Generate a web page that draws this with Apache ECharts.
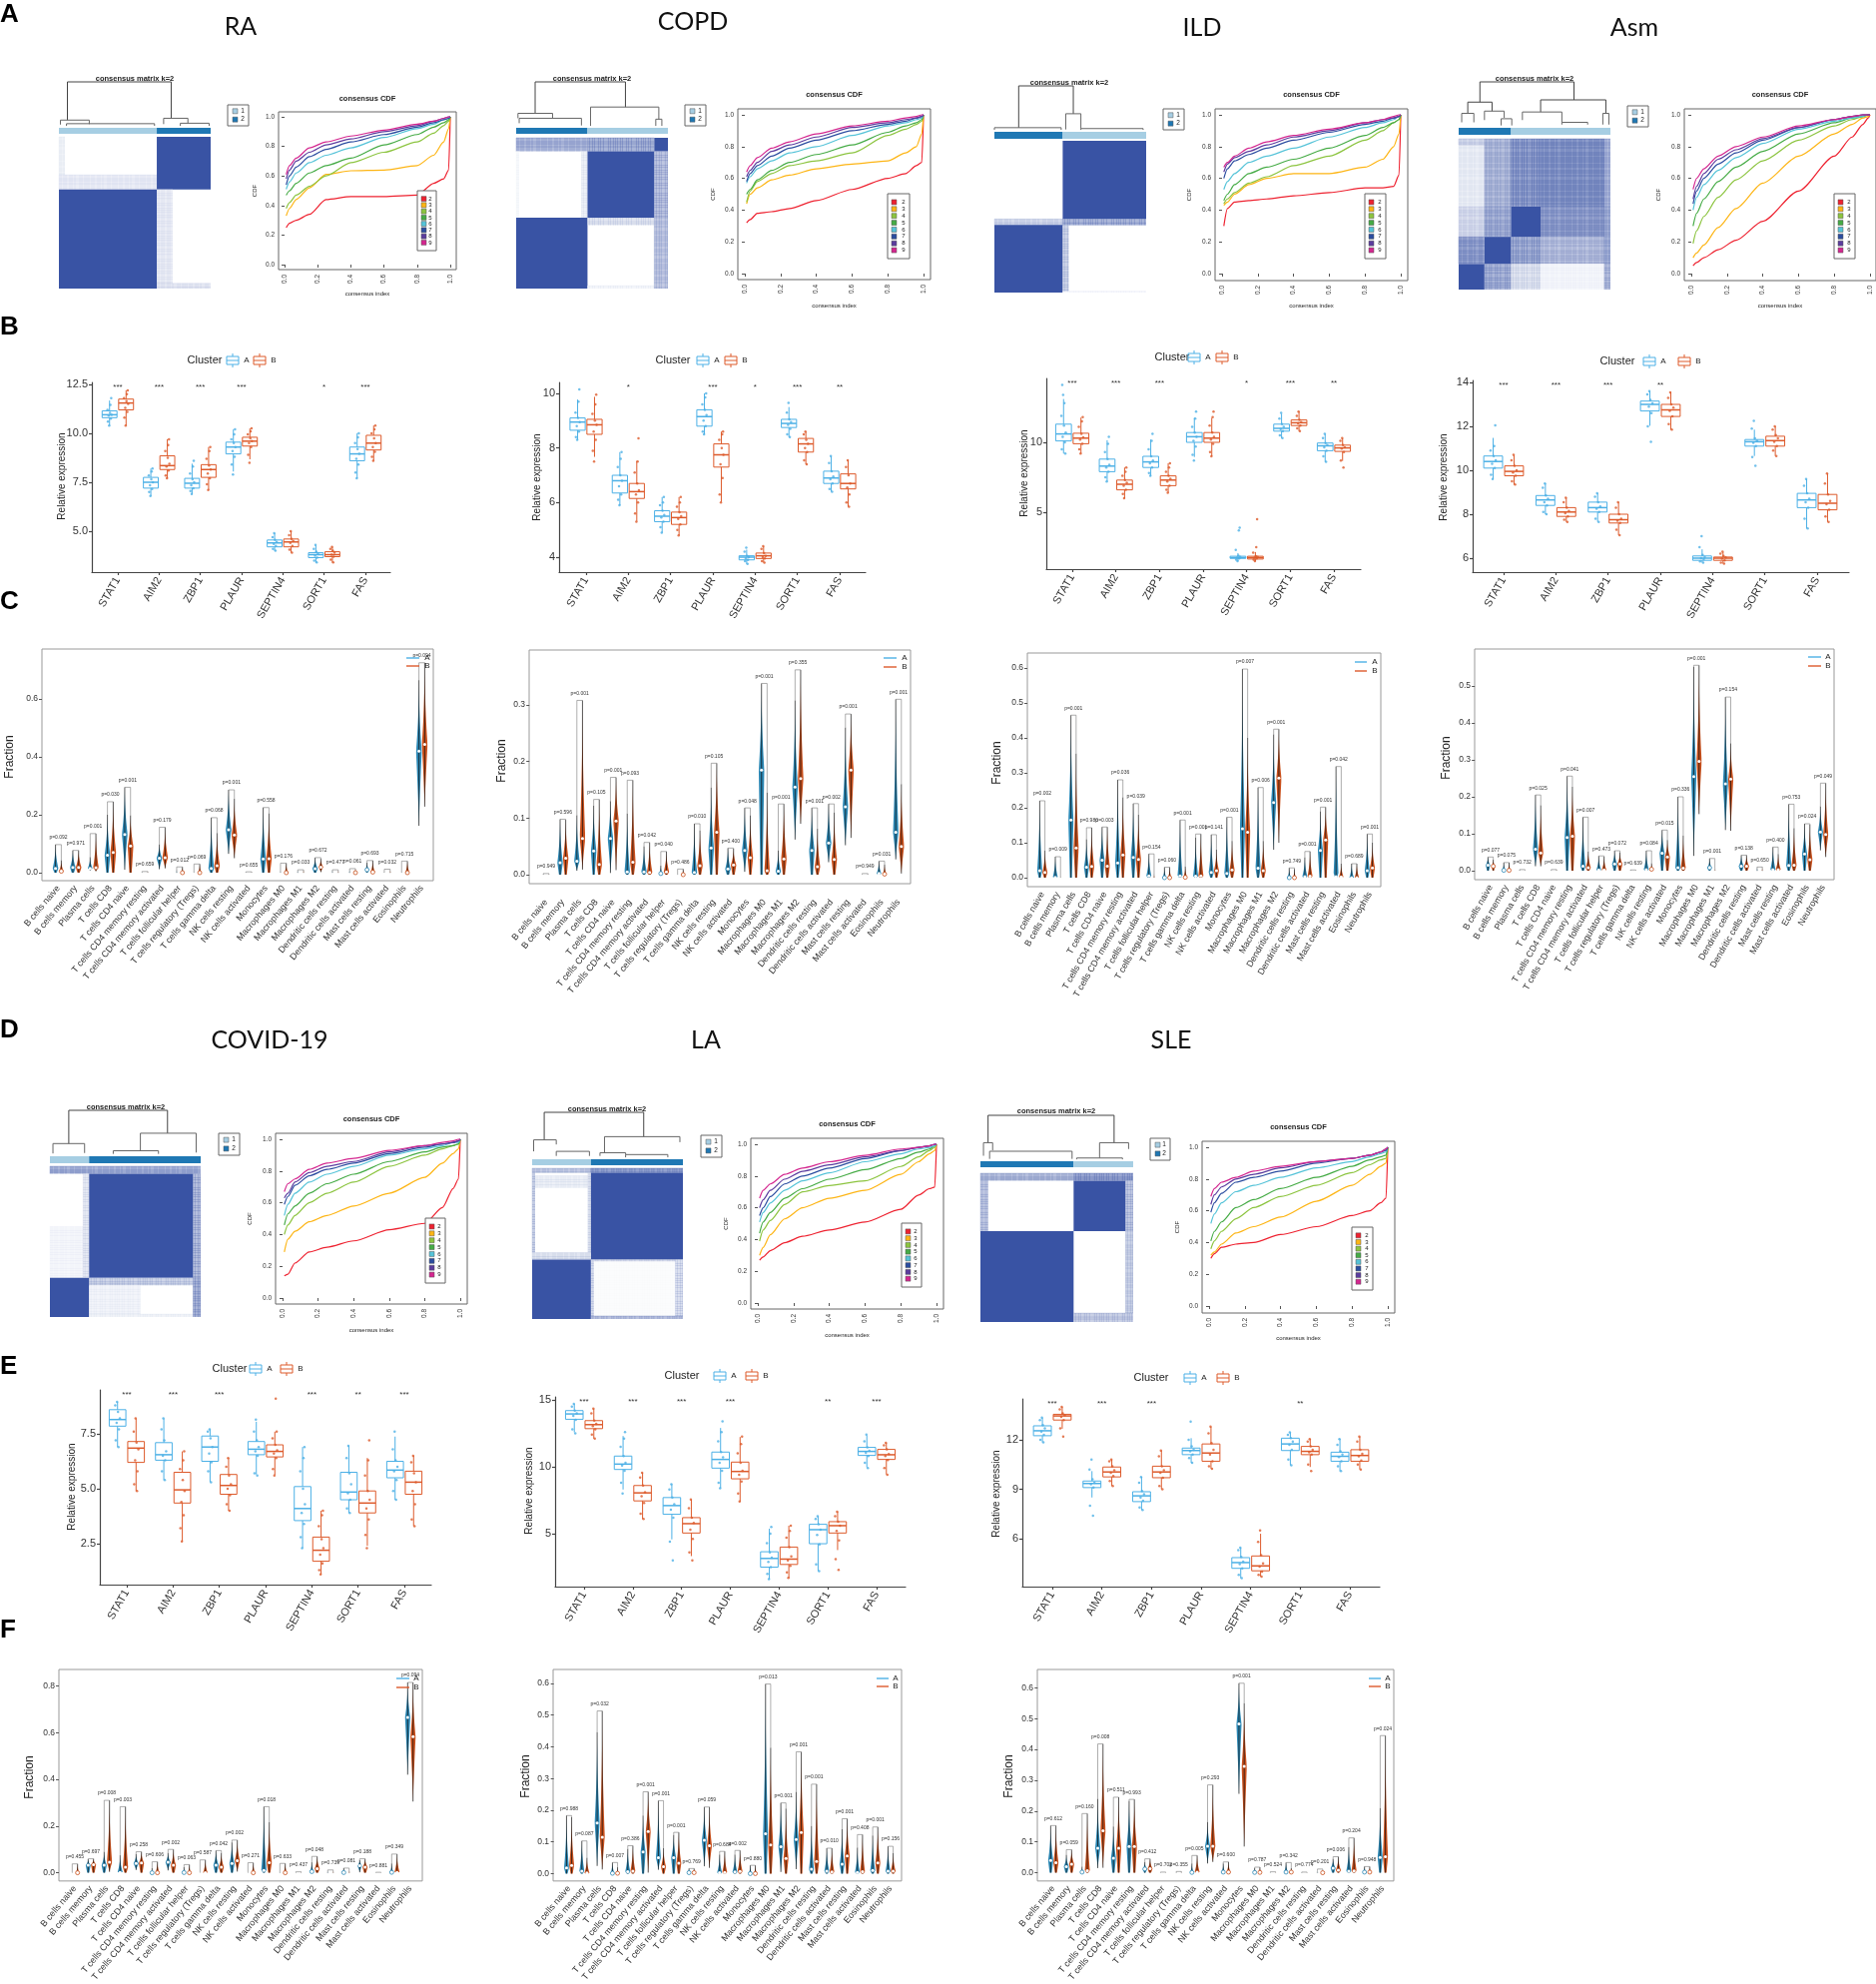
<!DOCTYPE html>
<html>
<head>
<meta charset="utf-8">
<style>
html,body{margin:0;padding:0;background:#fff}
#chart{width:1879px;height:1987px}
</style>
<script src="https://cdn.jsdelivr.net/npm/echarts@6/dist/echarts.min.js"></script>
</head>
<body>
<div id="chart"></div>
<script>
// ---------- labels ----------
const genes = ['STAT1','AIM2','ZBP1','PLAUR','SEPTIN4','SORT1','FAS']
const cells = ['B cells naive','B cells memory','Plasma cells','T cells CD8','T cells CD4 naive','T cells CD4 memory resting','T cells CD4 memory activated','T cells follicular helper','T cells regulatory (Tregs)','T cells gamma delta','NK cells resting','NK cells activated','Monocytes','Macrophages M0','Macrophages M1','Macrophages M2','Dendritic cells resting','Dendritic cells activated','Mast cells resting','Mast cells activated','Eosinophils','Neutrophils']
const cdfK = ['2','3','4','5','6','7','8','9']
const cdfColors = ['#ee2230','#fdb515','#8cc43f','#45ab45','#55c3d8','#2b4da0','#5b3c9e','#d4268f']
const boxColors = ['#4cb0e6','#dd5a2b']
const vioColors = ['#2c88b5','#c9501c']
const barColors = ['#a6cee3','#1f78b4']

// ---------- consensus CDF (k = 2..9), read at these consensus index values ----------
const cdfX = [0.01,0.03,0.07,0.15,0.25,0.4,0.6,0.8,0.9,0.96,0.99,1]
const cdfRA = [
  [.25,.28,.30,.34,.44,.46,.46,.47,.55,.58,.64,1],
  [.33,.38,.44,.52,.61,.635,.64,.67,.74,.83,.92,1],
  [.38,.42,.47,.53,.60,.69,.76,.83,.89,.94,.97,1],
  [.47,.50,.55,.62,.67,.72,.81,.88,.93,.96,.98,1],
  [.51,.56,.62,.69,.74,.79,.86,.92,.95,.98,.99,1],
  [.54,.60,.66,.73,.78,.83,.88,.93,.96,.98,.99,1],
  [.58,.64,.70,.76,.81,.85,.90,.94,.97,.99,1,1],
  [.61,.67,.72,.79,.83,.87,.91,.95,.97,.99,1,1]]
const cdfCOPD = [
  [.32,.34,.38,.39,.41,.46,.53,.60,.63,.68,.70,1],
  [.44,.50,.54,.59,.62,.66,.69,.71,.76,.80,.88,1],
  [.45,.52,.58,.63,.68,.71,.76,.87,.91,.94,.96,1],
  [.50,.53,.59,.65,.70,.75,.81,.89,.93,.95,.97,1],
  [.57,.61,.66,.71,.76,.80,.87,.93,.95,.97,.98,1],
  [.58,.63,.68,.74,.79,.84,.90,.94,.96,.98,.99,1],
  [.61,.65,.70,.77,.81,.86,.92,.95,.97,.98,.99,1],
  [.64,.68,.73,.79,.83,.88,.93,.96,.98,.99,1,1]]
const cdfILD = [
  [.30,.41,.45,.46,.47,.49,.51,.54,.54,.55,.62,1],
  [.43,.45,.50,.56,.60,.63,.63,.67,.72,.80,.88,1],
  [.44,.47,.51,.57,.61,.68,.74,.84,.90,.95,.97,1],
  [.46,.50,.56,.63,.67,.72,.79,.87,.92,.95,.97,1],
  [.53,.58,.63,.70,.74,.79,.86,.92,.95,.97,.99,1],
  [.60,.66,.71,.75,.79,.84,.89,.94,.96,.98,.99,1],
  [.64,.69,.73,.77,.81,.86,.90,.95,.97,.98,.99,1],
  [.67,.70,.74,.79,.83,.87,.91,.95,.97,.99,1,1]]
const cdfAsm = [
  [.05,.07,.10,.15,.21,.33,.52,.74,.86,.94,.98,1],
  [.10,.13,.18,.29,.41,.57,.74,.88,.94,.98,.99,1],
  [.19,.27,.36,.48,.59,.71,.84,.93,.97,.99,1,1],
  [.30,.38,.47,.58,.67,.77,.88,.95,.98,.99,1,1],
  [.40,.48,.56,.65,.73,.82,.91,.96,.98,.99,1,1],
  [.44,.52,.60,.69,.76,.84,.92,.97,.99,1,1,1],
  [.47,.55,.63,.72,.78,.85,.92,.97,.99,1,1,1],
  [.53,.60,.66,.74,.80,.86,.93,.97,.99,1,1,1]]
const cdfCOVID = [
  [.14,.15,.22,.29,.32,.36,.43,.47,.57,.69,.75,1],
  [.29,.37,.42,.48,.52,.58,.66,.76,.85,.91,.94,1],
  [.40,.46,.52,.60,.66,.73,.83,.90,.94,.96,.97,1],
  [.46,.53,.58,.66,.72,.78,.86,.92,.95,.96,.97,1],
  [.52,.59,.66,.73,.78,.83,.90,.94,.96,.98,.98,1],
  [.59,.64,.71,.77,.81,.85,.91,.95,.97,.98,.99,1],
  [.63,.66,.73,.79,.83,.86,.92,.96,.97,.98,.99,1],
  [.67,.72,.75,.81,.85,.88,.93,.96,.98,.99,1,1]]
const cdfLA = [
  [.27,.29,.33,.38,.42,.46,.51,.59,.68,.72,.73,1],
  [.30,.35,.43,.53,.60,.66,.71,.81,.89,.94,.96,1],
  [.39,.46,.52,.62,.70,.74,.77,.86,.92,.96,.98,1],
  [.44,.51,.57,.66,.72,.78,.84,.91,.95,.97,.99,1],
  [.51,.57,.63,.71,.77,.82,.89,.94,.97,.98,.99,1],
  [.55,.60,.67,.75,.80,.85,.91,.96,.98,.99,1,1],
  [.60,.65,.71,.78,.83,.87,.92,.96,.98,.99,1,1],
  [.66,.71,.75,.81,.85,.89,.93,.97,.98,.99,1,1]]
const cdfSLE = [
  [.30,.33,.37,.39,.40,.45,.50,.57,.60,.65,.68,1],
  [.32,.34,.39,.46,.50,.56,.66,.76,.83,.88,.90,1],
  [.36,.41,.47,.55,.62,.69,.76,.84,.89,.92,.93,1],
  [.41,.47,.53,.62,.67,.74,.81,.88,.92,.94,.95,1],
  [.52,.58,.65,.72,.76,.81,.87,.91,.94,.96,.97,1],
  [.59,.65,.71,.78,.81,.85,.90,.93,.95,.97,.98,1],
  [.64,.70,.75,.80,.83,.87,.91,.93,.95,.97,.99,1],
  [.69,.74,.78,.81,.85,.88,.91,.93,.95,.97,.99,1]]

// ---------- consensus matrices: [x0,x1,y0,y1,shade], from the top left ----------
const heatRA = [[0,.645,0,.347,0],[0,.04,0,.25,.12],[0,.645,.25,.347,.16],[.645,1,0,.347,1],[0,.645,.347,1,1],[.645,.75,.347,1,.16],[.645,1,.965,1,.22]]
const heatCOPD = [[0,.47,0,.09,.65],[.47,.91,0,.09,.72],[.91,1,0,.09,1],[.43,.47,.09,.53,.14],[0,.02,.09,.53,.06],[.47,.91,.09,.53,1],[.91,1,.09,.53,.55],[0,.47,.53,1,1],[.47,.91,.53,.58,.25],[.47,.91,.98,1,.1],[.91,1,.53,1,.5]]
const heatILD = [[0,.45,.515,.555,.35],[.45,1,0,.515,1],[.45,1,.515,.555,.7],[0,.45,.555,1,1],[.45,.49,.555,1,.4],[.45,1,.99,1,.08]]
const heatAsm = [[0,.17,0,.45,.15],[0,.17,0,.04,.35],[.17,.345,0,.45,.6],[.345,.54,0,.45,.9],[.54,.96,0,.45,.95],[.96,1,0,.45,.65],[0,.17,.45,.65,.3],[.17,.345,.45,.65,.7],[.345,.54,.45,.65,1],[.54,.96,.45,.65,.85],[.96,1,.45,.65,.7],[0,.17,.65,.83,.85],[.17,.345,.65,.83,1],[.345,.54,.65,.83,.75],[.54,.96,.65,.83,.55],[.96,1,.65,.83,.7],[0,.17,.83,1,1],[.17,.345,.83,1,.7],[.345,.54,.83,1,.25],[.54,.96,.83,1,.08],[.96,1,.83,1,.6]]
const heatCOVID = [[0,1,0,.05,.7],[0,.22,.4,.74,.08],[.22,.26,.05,.74,.2],[.26,.95,.05,.74,1],[.95,1,.05,.74,.6],[0,.26,.74,1,1],[.26,.95,.74,.79,.4],[.26,.6,.79,.98,.1],[.26,.95,.98,1,.12],[.95,1,.74,1,.7]]
const heatLA = [[0,.39,0,.03,.5],[.39,1,0,.03,.9],[0,.02,.03,.56,.4],[.02,.37,.05,.13,.15],[.37,.39,.03,.56,.25],[.39,1,.03,.606,1],[0,.39,.56,.606,.25],[0,.39,.606,1,1],[.39,.41,.606,1,.3],[.39,1,.606,.62,.35],[.41,.95,.62,.98,.03],[.95,1,.606,1,.3],[.39,1,.98,1,.6]]
const heatSLE = [[0,.61,0,.05,.6],[.61,1,0,.05,.85],[0,.05,.05,.39,.5],[.61,.95,.05,.39,1],[.95,1,.05,.39,.5],[0,.61,.39,1,1],[.95,1,.39,1,.4],[.61,1,.94,1,.45]]
const hatchSteps = [2,3,2,4,2,3,5,2,3,2]

// ---------- annotation bars [x0,x1,cluster] ----------
const barRA = [[0,.645,0],[.645,1,1]]
const barCOPD = [[0,.47,1],[.47,1,0]]
const barILD = [[0,.45,1],[.45,1,0]]
const barAsm = [[0,.345,1],[.345,1,0]]
const barCOVID = [[0,.26,0],[.26,1,1]]
const barLA = [[0,.39,0],[.39,1,1]]
const barSLE = [[0,.61,1],[.61,1,0]]

// ---------- dendrogram merges [xLeft,xRight,top,bottomLeft,bottomRight] ----------
const dendRA = [[.056,.74,1,.15,.19],[.01,.2,.15,.05,.06],[.05,.63,.07,.02,.02],[.69,.85,.19,.06,.08],[.8,.99,.08,.02,.02]]
const dendCOPD = [[.125,.72,1,.3,.44],[.012,.24,.3,.19,.19],[.02,.43,.19,.08,.03],[.49,.94,.44,.02,.17],[.92,.96,.17,.02,.02]]
const dendILD = [[.16,.52,1,.07,.38],[0,.44,.07,.02,.02],[.47,.57,.38,.03,.05],[.57,.98,.05,.02,.02]]
const dendAsm = [[.14,.76,1,.55,.6],[.06,.22,.55,.3,.35],[.02,.1,.3,.1,.1],[.17,.3,.35,.15,.2],[.28,.35,.18,.03,.03],[.54,.97,.6,.33,.3],[.42,.68,.33,.15,.1],[.68,.85,.1,.05,.05],[.95,.99,.3,.05,.05]]
const dendCOVID = [[.125,.78,1,.26,.49],[.02,.23,.26,.04,.05],[.6,.97,.49,.1,.06],[.42,.72,.1,.03,.03]]
const dendLA = [[.08,.74,1,.4,.47],[.01,.16,.4,.15,.3],[.16,.38,.15,.05,.05],[.48,.98,.47,.12,.35],[.45,.62,.12,.05,.08],[.62,.9,.08,.02,.02]]
const dendSLE = [[.05,.875,1,.39,.39],[.02,.08,.39,.1,.22],[.06,.6,.2,.03,.03],[.78,.97,.39,.05,.25],[.63,.93,.05,.02,.02]]

// ---------- gene expression: per gene, A then B: [low,q1,median,q3,high] ----------
const boxRA = [[10.4,10.8,10.95,11.15,11.8],[10.4,11.2,11.55,11.75,12.2],[6.8,7.2,7.5,7.75,8.2],[7.7,8.15,8.35,8.85,9.7],[6.9,7.2,7.45,7.7,8.6],[7.1,7.75,8.15,8.4,9.3],[7.9,8.95,9.3,9.55,10.2],[8.5,9.35,9.6,9.8,10.25],[4,4.2,4.4,4.55,4.9],[3.9,4.2,4.45,4.6,5],[3.4,3.65,3.8,3.9,4.3],[3.4,3.7,3.8,3.95,4.2],[7.7,8.6,8.95,9.3,10],[8.6,9.15,9.5,9.9,10.4]]
const boxCOPD = [[8.3,8.65,8.95,9.1,10.15],[7.5,8.5,8.85,9.05,9.95],[5.9,6.35,6.8,7,7.85],[5.3,6.15,6.4,6.7,8.35],[4.9,5.3,5.5,5.7,6.2],[4.8,5.2,5.45,5.65,6.2],[8.5,8.8,9.15,9.4,10],[6,7.3,7.75,8.15,8.6],[3.75,3.9,4,4.05,4.35],[3.8,3.95,4.05,4.15,4.4],[8.4,8.75,8.9,9.05,9.65],[7.4,7.85,8.15,8.35,8.6],[6.4,6.7,6.9,7.15,7.7],[5.85,6.5,6.7,7.05,7.55]]
const boxILD = [[9.2,10.1,10.6,11.3,14.1],[9.2,9.9,10.3,10.65,11.8],[7.2,7.9,8.3,8.8,10.4],[6,6.6,7,7.3,8.2],[7.6,8.2,8.6,9,10.6],[6.4,6.9,7.3,7.6,8.5],[8.7,10,10.4,10.7,12.2],[9,10,10.3,10.7,12.2],[1.5,1.7,1.75,1.85,3.9],[1.5,1.65,1.75,1.85,4.5],[10.3,10.8,11,11.3,12.1],[10.8,11.2,11.4,11.6,12.2],[8.6,9.4,9.75,9.95,10.6],[8.2,9.35,9.6,9.8,10.3]]
const boxAsm = [[9.6,10.1,10.4,10.65,12.05],[9.35,9.75,9.95,10.2,10.7],[8,8.4,8.65,8.85,9.4],[7.65,7.9,8.1,8.3,8.75],[7.65,8.1,8.3,8.55,8.95],[7.05,7.6,7.75,8,8.55],[11.3,12.7,13,13.15,13.6],[11.85,12.45,12.75,13,13.55],[5.8,5.9,6,6.1,7],[5.75,5.9,6,6.05,6.3],[10.2,11.1,11.3,11.4,12.25],[10.65,11.1,11.35,11.55,12],[7.35,8.3,8.65,8.95,9.6],[7.65,8.2,8.5,8.9,9.85]]
const boxCOVID = [[6.9,7.85,8.15,8.6,8.95],[4.9,6.2,6.85,7.15,8.2],[5.4,6.3,6.55,7.1,8.2],[2.6,4.35,4.95,5.75,6.7],[5.3,6.25,6.9,7.4,7.7],[4,4.75,5.15,5.65,6.4],[5.6,6.55,6.8,7.15,8.15],[5.6,6.45,6.7,7,7.6],[2.3,3.55,4.1,5.1,6.9],[1.1,1.7,2.2,2.8,4],[3.9,4.5,4.85,5.75,6.95],[2.3,3.9,4.35,4.9,7.2],[4.5,5.5,5.85,6.25,7.6],[3.3,4.75,5.3,5.8,6.5]]
const boxLA = [[12.5,13.55,13.95,14.2,14.7],[12.1,12.85,13.15,13.45,14.35],[8,9.8,10.2,10.8,12.6],[6.1,7.45,8.05,8.6,9.55],[3,6.45,7.1,7.7,8.7],[3,5.05,5.75,6.2,7.55],[8.4,9.9,10.55,11.1,13.4],[7.4,9.1,9.65,10.35,12.25],[1.6,2.5,3.15,3.65,5.5],[1.7,2.7,3.1,4,5.6],[2.2,4.25,5.3,5.7,6.3],[2.3,5.05,5.6,5.9,6.65],[9.9,10.85,11.15,11.45,12.4],[9.4,10.55,10.9,11.3,11.8]]
const boxSLE = [[11.85,12.25,12.55,12.85,13.35],[12.2,13.2,13.45,13.55,14],[7.4,9.1,9.35,9.5,10.8],[9.2,9.75,10.05,10.35,10.8],[7.75,8.25,8.6,8.85,9.75],[9,9.7,10.05,10.4,11.35],[10.6,11.1,11.35,11.5,13.1],[10.25,10.7,11.2,11.75,12.8],[3.6,4.2,4.55,4.85,5.45],[3.7,4.05,4.35,4.95,6.5],[10.45,11.35,11.75,12.1,12.45],[10.1,11.1,11.3,11.6,12.05],[10.1,10.7,11,11.25,12.05],[10.2,10.7,11.05,11.4,12.2]]

// ---------- individual samples, same order as the boxes ----------
const dotsRA = [[10.6,10.75,10.9,10.95,11.05,11.2,11.45],[10.8,11.1,11.3,11.5,11.65,11.8,12],[7,7.15,7.35,7.5,7.65,7.85,8.05],[7.85,8.1,8.3,8.45,8.75,9.1,9.4],[7.05,7.2,7.35,7.5,7.65,7.95,8.3],[7.4,7.7,7.95,8.15,8.35,8.7,9.1],[8.4,8.8,9.1,9.3,9.5,9.7,9.95],[8.9,9.3,9.5,9.6,9.75,9.95,10.1],[4.1,4.25,4.35,4.45,4.55,4.7],[4.05,4.25,4.4,4.5,4.6,4.8],[3.5,3.65,3.75,3.85,3.95,4.1],[3.55,3.7,3.8,3.9,4,4.1],[8,8.4,8.7,8.95,9.2,9.5,9.8],[8.8,9.05,9.3,9.5,9.75,10,10.2]]
const dotsCOPD = [[8.4,8.6,8.8,8.95,9.1,9.3,9.7],[7.9,8.3,8.6,8.85,9,9.25,9.6],[6.1,6.3,6.6,6.8,7,7.3,7.6],[5.6,6,6.3,6.45,6.7,7.1,7.5],[5.1,5.3,5.45,5.55,5.7,5.9,6],[5,5.2,5.4,5.5,5.65,5.85,6],[8.6,8.8,9,9.2,9.4,9.6,9.85],[6.3,6.9,7.4,7.75,8,8.3,8.5],[3.85,3.9,3.95,4,4.05,4.2],[3.85,3.95,4,4.05,4.15,4.3],[8.5,8.7,8.85,8.95,9.05,9.3],[7.55,7.85,8,8.15,8.3,8.5],[6.5,6.7,6.85,6.95,7.15,7.45],[6,6.3,6.55,6.7,7,7.3]]
const dotsILD = [[9.5,10,10.4,10.7,11.2,11.9,12.8,13.4],[9.5,9.9,10.2,10.35,10.6,11.1,11.5],[7.5,7.9,8.2,8.4,8.8,9.3,9.9],[6.3,6.6,6.9,7.1,7.3,7.6,7.9],[7.8,8.2,8.5,8.7,9,9.5,10.1],[6.6,6.9,7.2,7.4,7.6,7.9,8.2],[9.1,9.7,10.1,10.4,10.7,11.1,11.7],[9.3,9.9,10.2,10.4,10.7,11.2,11.8],[1.6,1.7,1.75,1.8,1.9,2.3,3.7],[1.6,1.7,1.75,1.8,1.85,2.1,2.5],[10.5,10.8,10.95,11.1,11.3,11.7],[11,11.2,11.35,11.45,11.6,11.9],[9,9.4,9.65,9.8,9.95,10.3],[8.7,9.3,9.55,9.65,9.8,10.1]]
const dotsAsm = [[9.8,10.1,10.3,10.45,10.65,10.9,11.1],[9.5,9.75,9.9,10,10.2,10.45],[8.1,8.4,8.55,8.7,8.85,9.2],[7.75,7.9,8.05,8.15,8.3,8.55],[7.8,8.1,8.25,8.35,8.55,8.8],[7.3,7.6,7.7,7.8,8,8.3],[12,12.6,12.9,13.05,13.2,13.45],[12.1,12.45,12.7,12.85,13,13.3],[5.85,5.95,6,6.05,6.15,6.5],[5.8,5.9,5.98,6.03,6.1,6.2],[10.6,11.1,11.25,11.35,11.45,11.9],[10.9,11.1,11.3,11.45,11.6,11.85],[7.8,8.3,8.55,8.7,8.95,9.3],[7.9,8.2,8.45,8.6,8.9,9.4]]
const dotsCOVID = [[7.2,7.7,8,8.2,8.5,8.8],[5.2,5.8,6.3,6.8,7.1,7.6],[5.8,6.3,6.5,6.7,7.2,7.7],[3.2,3.8,4.4,4.9,5.4,5.9,6.3],[5.8,6.2,6.6,6.9,7.3,7.6],[4.3,4.7,5,5.2,5.6,6],[5.7,6.5,6.7,6.9,7.2,7.6],[5.9,6.4,6.6,6.75,7,7.3,9.1],[2.8,3.4,3.9,4.3,5,5.8,6.4],[1.3,1.6,2,2.3,2.7,3.3,3.8],[4.1,4.5,4.8,5.2,5.7,6.4],[2.9,3.6,4.1,4.5,4.9,5.6,6.3],[4.9,5.4,5.8,6,6.3,6.8],[3.6,4.3,4.9,5.3,5.7,6.2]]
const dotsLA = [[12.8,13.5,13.8,14,14.2,14.5],[12.4,12.8,13.05,13.2,13.45,14],[8.8,9.7,10.1,10.3,10.8,11.5,12.1],[6.5,7.3,7.8,8.1,8.6,9.2],[4.4,6.2,6.8,7.2,7.7,8.3],[3.6,4.6,5.3,5.8,6.2,6.9],[8.8,9.7,10.3,10.7,11.1,11.9,12.6],[8,8.9,9.4,9.7,10.3,11,11.7],[2,2.5,2.9,3.2,3.6,4.3,5],[2.1,2.6,3,3.3,4,4.7,5.2],[2.7,4.2,4.9,5.3,5.7,6.1],[3.1,4.5,5.2,5.6,5.9,6.3],[10.3,10.8,11.05,11.2,11.45,11.9],[9.9,10.5,10.8,10.95,11.3,11.6]]
const dotsSLE = [[12,12.3,12.5,12.7,12.9,13.2],[12.7,13.2,13.4,13.5,13.6,13.85],[8,9.1,9.3,9.4,9.6,10.2],[9.5,9.8,10,10.15,10.4,10.7],[7.9,8.3,8.5,8.7,8.9,9.4],[9.2,9.7,10,10.15,10.4,11],[10.9,11.1,11.3,11.4,11.6,12],[10.4,10.7,11.1,11.4,11.8,12.4],[3.8,4.2,4.45,4.6,4.9,5.3],[3.8,4,4.3,4.5,5,5.8],[10.8,11.4,11.7,11.9,12.1,12.3],[10.5,11.1,11.25,11.4,11.6,11.9],[10.4,10.7,10.95,11.1,11.3,11.7],[10.5,10.75,11,11.15,11.4,11.9]]
const jitter = [-.04,.03,-.02,.05,.01,-.05,.02,-.01,.04,-.03]

const starsRA = ['***','***','***','***','','*','***']
const starsCOPD = ['','*','','***','*','***','**']
const starsILD = ['***','***','***','','*','***','**']
const starsAsm = ['***','***','***','**','','','']
const starsCOVID = ['***','***','***','','***','**','***']
const starsLA = ['***','***','***','***','','**','***']
const starsSLE = ['***','***','***','','','**','']

// ---------- immune fractions: per cell type, [high,median,low] ----------
const vioRA_A = [[.097,.015],[.077,.018],[.054,.015,.008],[.2,.06],[.295,.132,.01],[.004,0],[.098,.05,.012],[.01,0],[.004,0],[.19,.015],[.286,.148,.065],[.003,0],[.225,.047],[.005,0],[.01,0],[.052,.014],[.008,0],[.012,0],[.035,.01],[.003,0],[.004,0],[.665,.42,.162]]
const vioRA_B = [[.043,.005],[.077,.018],[.135,.017,.005],[.245,.07],[.198,.092],[.004,0],[.157,.052,.015],[.02,0],[.03,0],[.137,.024],[.255,.13,.05],[.003,0],[.205,.048],[.033,0],[.01,0],[.048,.019,.002],[.01,0],[.014,0],[.042,.002],[.012,0],[.04,0],[.725,.443,.228]]
const pRA = ['0.092','0.971','0.001','0.030','0.001','0.659','0.179','0.012','0.069','0.068','0.001','0.655','0.558','0.176','0.033','0.672','0.477','0.061','0.693','0.032','0.715','0.094']
const vioCOPD_A = [[.002,0],[.098,.021],[.105,.024,.007],[.122,.042],[.13,.064,.003],[.108,.005],[.05,.005],[.016,.002],[.002,0],[.09,.004],[.154,.047],[.047,.01],[.118,.043,.005],[.338,.185],[.043,.006],[.308,.155,.062],[.118,.043],[.125,.056,.022],[.26,.12,.052],[.002,0],[.024,.002],[.31,.075,.027]]
const vioCOPD_B = [[.002,0],[.097,.029],[.308,.064,.009],[.133,.018],[.172,.095,.008],[.167,.022],[.057,.004],[.041,.005],[.01,0],[.078,.016],[.197,.075],[.046,.017],[.105,.03],[.145,.007],[.125,.028],[.362,.17,.09],[.081,.014],[.11,.027],[.284,.185,.065],[.002,0],[.018,.001],[.16,.05,.002]]
const pCOPD = ['0.949','0.596','0.001','0.105','0.001','0.093','0.042','0.040','0.486','0.010','0.105','0.400','0.048','0.001','0.001','0.355','0.001','0.002','0.001','0.949','0.031','0.001']
const vioILD_A = [[.22,.02],[.06,.001],[.465,.165],[.11,.03],[.145,.05],[.28,.042],[.212,.058],[.068,.005],[.03,0],[.165,.005],[.115,.004],[.123,.015],[.173,.012],[.597,.14],[.258,.027],[.41,.215,.08],[.028,0],[.058,.003],[.19,.078],[.318,.003],[.04,0],[.125,.02]]
const vioILD_B = [[.078,.015],[.003,0],[.355,.085],[.143,.032],[.145,.033],[.23,.065],[.18,.052],[.01,.002],[.03,0],[.032,.001],[.125,.005],[.08,.02],[.105,.022],[.4,.13],[.105,.02],[.425,.285,.1],[.025,0],[.075,.004],[.202,.108],[.04,.002],[.04,0],[.1,.028]]
const pILD = ['0.002','0.009','0.001','0.980','0.003','0.036','0.039','0.154','0.060','0.001','0.001','0.141','0.001','0.007','0.006','0.001','0.749','0.001','0.001','0.042','0.689','0.001']
const vioAsm_A = [[.037,.015],[.022,.001],[.003,0],[.205,.058,.012],[.003,0],[.256,.09],[.145,.012],[.04,.002],[.054,.018],[.002,0],[.054,.003],[.11,.047],[.2,.008],[.552,.255,.04],[.033,.008],[.47,.235,.11],[.042,.012],[.01,0],[.064,.003],[.18,.014],[.127,.045],[.174,.105,.055]]
const vioAsm_B = [[.03,.012],[.022,.001],[.003,0],[.177,.048,.012],[.003,0],[.227,.093],[.052,.008],[.038,.002],[.05,.018],[.002,0],[.02,.004],[.083,.037],[.095,.007],[.556,.296,.153],[.008,.002],[.345,.248,.108],[.042,.012],[.01,0],[.045,.003],[.115,.015],[.125,.03],[.237,.098,.037]]
const pAsm = ['0.077','0.075','0.732','0.025','0.639','0.041','0.007','0.473','0.072','0.639','0.084','0.015','0.336','0.001','0.001','0.154','0.138','0.650','0.400','0.753','0.024','0.049']
const vioCOVID_A = [[.003,0],[.058,.033],[.09,.032],[.075,.002],[.08,.04,.012],[.02,0],[.085,.045,.01],[.024,.001],[.002,0],[.095,.033],[.13,.04],[.003,0],[.283,.01],[.008,0],[.004,0],[.045,.005],[.012,0],[.02,.001],[.055,.03,.002],[.002,0],[.04,.002],[.815,.665,.42]]
const vioCOVID_B = [[.038,0],[.06,.035],[.31,.045,.004],[.283,.024],[.09,.042],[.047,0],[.1,.032],[.035,0],[.055,0],[.085,.024],[.14,.052,.005],[.043,0],[.217,.043],[.04,0],[.004,0],[.07,.018],[.012,0],[.015,.001],[.06,.024],[.002,0],[.08,.002],[.815,.583,.305]]
const pCOVID = ['0.455','0.697','0.008','0.003','0.258','0.606','0.002','0.063','0.587','0.042','0.002','0.271','0.018','0.633','0.437','0.048','0.739','0.081','0.188','0.881','0.349','0.094']
const vioLA_A = [[.183,.018],[.103,.008],[.446,.16,.024],[.035,.001],[.078,.006],[.183,.068],[.23,.05,.012],[.122,.05],[.016,.003],[.21,.105,.023],[.06,.003],[.06,.005],[.026,0],[.598,.126],[.223,.085,.005],[.258,.108,.014],[.15,.014],[.08,.008],[.14,.03],[.082,.004],[.12,.01],[.086,.008]]
const vioLA_B = [[.178,.026],[.05,.002],[.513,.115,.013],[.02,.001],[.088,.008],[.258,.133,.003],[.08,.022],[.13,.033],[.016,.003],[.21,.088,.018],[.07,.004],[.073,.007],[.026,0],[.397,.09],[.205,.048],[.384,.13],[.282,.038],[.08,.005],[.173,.056],[.123,.006],[.147,.034],[.065,.008]]
const pLA = ['0.988','0.087','0.032','0.007','0.386','0.001','0.001','0.001','0.769','0.059','0.684','0.002','0.880','0.013','0.001','0.001','0.001','0.010','0.001','0.408','0.001','0.156']
const vioSLE_A = [[.153,.04],[.058,.02],[.02,.002],[.24,.08,.015],[.15,.047],[.233,.085],[.035,.012],[.002,0],[.002,0],[.03,.001],[.165,.086,.03],[.03,.002],[.615,.483,.256],[.015,.001],[.003,0],[.033,.002],[.002,0],[.01,0],[.045,.015],[.083,.005],[.02,.002],[.21,.05]]
const vioSLE_B = [[.153,.033],[.075,.028],[.192,.007],[.418,.136,.016],[.245,.08],[.238,.085],[.045,.013],[.002,0],[.004,0],[.056,.002],[.285,.086,.035],[.035,.002],[.55,.345,.085],[.018,.001],[.003,0],[.015,.002],[.002,0],[.012,0],[.052,.008],[.113,.006],[.02,.002],[.445,.052]]
const pSLE = ['0.612','0.059','0.160','0.008','0.511','0.993','0.412','0.702','0.355','0.005','0.293','0.600','0.001','0.787','0.524','0.342','0.774','0.201','0.006','0.204','0.948','0.024']

// ---------- building blocks ----------
const grid = [], xAxis = [], yAxis = [], series = [], elements = []
const SANS = 'Liberation Sans'
const range = a => a.map((_, i) => i + 1)

function txt(x, y, text, o = {}) {
  elements.push({
    type: 'text', x, y, z: 100, silent: true, rotation: o.rotate || 0,
    style: { text, fill: o.color || '#222', fontSize: o.size || 8, fontFamily: o.family || SANS, fontWeight: o.weight || 'normal', textAlign: o.align || 'center', textVerticalAlign: 'middle' }
  })
}
function rect(x, y, width, height, fill, stroke, lineWidth) {
  elements.push({ type: 'rect', z: 100, silent: true, shape: { x, y, width, height }, style: { fill: fill || 'none', stroke: stroke || 'none', lineWidth: lineWidth || 1 } })
}
function seg(x1, y1, x2, y2, stroke, lineWidth) {
  elements.push({ type: 'line', z: 100, silent: true, shape: { x1, y1, x2, y2 }, style: { stroke, lineWidth: lineWidth || 1 } })
}
// axis limits so that data values vA, vB land on pixels pA, pB when the axis spans pLo..pHi
function limits(pLo, pHi, pA, pB, vA, vB) {
  const k = (vB - vA) / (pB - pA)
  return { min: vA + (pLo - pA) * k, max: vA + (pHi - pA) * k }
}
function addGrid(box, xa, ya, g = {}) {
  grid.push(Object.assign({ left: box[0], top: box[1], width: box[2] - box[0], height: box[3] - box[1], containLabel: false }, g))
  const i = grid.length - 1
  xAxis.push(Object.assign({ gridIndex: i, type: 'value', splitLine: { show: false } }, xa))
  yAxis.push(Object.assign({ gridIndex: i, type: 'value', splitLine: { show: false } }, ya))
  return i
}
const hidden = (min, max, extra) => Object.assign({ show: false, min, max }, extra)
function custom(g, data, renderItem) {
  series.push({ type: 'custom', xAxisIndex: g, yAxisIndex: g, data, renderItem, silent: true, clip: false })
}
function shade(v) {
  const mix = (a, b) => Math.round(a + (b - a) * v)
  return `rgb(${mix(255, 57)},${mix(255, 83)},${mix(255, 164)})`
}

function drawConsensus(p) {
  const [l, top, r, bottom] = p.heat
  const h = bottom - top
  const g = addGrid([l, p.barTop, r, bottom], hidden(0, 1), hidden((p.barTop - top) / h, 1, { inverse: true }))
  custom(g, [[0, 1, 0, 1, 0]].concat(p.blocks), (params, api) => {
    const a = api.coord([api.value(0), api.value(2)]), b = api.coord([api.value(1), api.value(3)])
    const v = api.value(4), w = b[0] - a[0], ht = b[1] - a[1]
    if (v <= 0 || v >= 1) return { type: 'rect', shape: { x: a[0], y: a[1], width: w, height: ht }, style: { fill: shade(v) } }
    // partial agreement shows as fine streaks across the block
    const kids = [{ type: 'rect', shape: { x: a[0], y: a[1], width: w, height: ht }, style: { fill: shade(v * .6) } }]
    const st = { stroke: `rgba(57,83,164,${v * .55})`, lineWidth: .7 }
    for (let x = a[0], i = 0; x < b[0]; x += hatchSteps[i++ % hatchSteps.length]) kids.push({ type: 'line', shape: { x1: x, y1: a[1], x2: x, y2: b[1] }, style: st })
    for (let y = a[1], i = 3; y < b[1]; y += hatchSteps[i++ % hatchSteps.length]) kids.push({ type: 'line', shape: { x1: a[0], y1: y, x2: b[0], y2: y }, style: st })
    return { type: 'group', children: kids }
  })
  custom(g, p.bar, (params, api) => {
    const a = api.coord([api.value(0), (p.barTop - top) / h]), b = api.coord([api.value(1), (p.barBottom - top) / h])
    return { type: 'rect', shape: { x: a[0], y: a[1], width: b[0] - a[0], height: b[1] - a[1] }, style: { fill: barColors[api.value(2)] } }
  })
  const d = addGrid([l, p.dendTop, r, p.barTop - 1], hidden(0, 1), hidden(0, 1))
  custom(d, p.dend, (params, api) => {
    const xl = api.value(0), xr = api.value(1), t = api.value(2), bl = api.value(3), br = api.value(4)
    const pts = [api.coord([xl, bl]), api.coord([xl, t]), api.coord([xr, t]), api.coord([xr, br])]
    return { type: 'polyline', shape: { points: pts }, style: { stroke: t > .5 ? '#444' : '#666', lineWidth: 1, fill: 'none' } }
  })
  txt(p.title[0], p.title[1], 'consensus matrix k=2', { size: 7.5, weight: 'bold' })
  const [lx, ly, rx, ry] = p.key
  rect(lx, ly, rx - lx, ry - ly, '#fff', '#666', 1)
  barColors.forEach((c, i) => {
    const cy = ly + (ry - ly) * (i === 0 ? .3 : .7)
    rect(lx + 5, cy - 2.5, 5, 5, c, '#555', .5)
    txt(rx - 6, cy, String(i + 1), { size: 6.5 })
  })
}

function drawCdf(p) {
  const [l, t, r, b] = p.box
  const xl = limits(l, r, p.x0, p.x1, 0, 1), yl = limits(b, t, p.y0, p.y1, 0, 1)
  const ticks = [0, .2, .4, .6, .8, 1]
  const g = addGrid(p.box,
    { min: xl.min, max: xl.max, axisLine: { show: false }, axisTick: { customValues: ticks, length: 3, lineStyle: { color: '#555' } }, axisLabel: { customValues: ticks, rotate: 90, fontSize: 6.5, color: '#333', margin: 5, fontFamily: SANS, formatter: v => v.toFixed(1) } },
    { min: yl.min, max: yl.max, axisLine: { show: false }, axisTick: { customValues: ticks, length: 3, lineStyle: { color: '#555' } }, axisLabel: { customValues: ticks, fontSize: 6.5, color: '#333', margin: 4, fontFamily: SANS, formatter: v => v.toFixed(1) } },
    { show: true, borderColor: '#666', borderWidth: 1 })
  p.curves.forEach((c, i) => series.push({
    type: 'line', name: cdfK[i], xAxisIndex: g, yAxisIndex: g, showSymbol: false, silent: true, smooth: .25, smoothMonotone: 'x',
    lineStyle: { color: cdfColors[i], width: 1.2 }, data: cdfX.map((x, j) => [x, c[j]])
  }))
  txt((l + r) / 2, p.titleY, 'consensus CDF', { size: 7.5, weight: 'bold' })
  txt((l + r) / 2, p.nameY, 'consensus index', { size: 6 })
  txt(p.nameX, (t + b) / 2, 'CDF', { size: 6, rotate: Math.PI / 2 })
  const [kl, kt, kr, kb] = p.key
  rect(kl, kt, kr - kl, kb - kt, '#fff', '#666', 1)
  cdfK.forEach((k, i) => {
    const cy = kt + 5 + (kb - kt - 10) * (i + .5) / 8
    rect(kl + 4, cy - 2.5, 5, 5, cdfColors[i], '#555', .5)
    txt(kr - 6, cy, k, { size: 6 })
  })
}

function drawBoxes(p) {
  const [l, t, r, b] = p.box
  const xl = limits(l, r, p.cat0, p.cat6, 1, 7), yl = limits(b, t, p.tickPx[0], p.tickPx[1], p.ticks[0], p.ticks[p.ticks.length - 1])
  const pos = range(genes), line = { lineStyle: { color: '#444', width: 1.2 } }
  const g = addGrid(p.box,
    { min: xl.min, max: xl.max, axisLine: line, axisTick: Object.assign({ customValues: pos, length: 3 }, line), axisLabel: { customValues: pos, rotate: 60, fontSize: 11, color: '#333', margin: 6, fontFamily: SANS, formatter: v => genes[Math.round(v) - 1] } },
    { min: yl.min, max: yl.max, axisLine: line, axisTick: Object.assign({ customValues: p.ticks, length: 3 }, line), axisLabel: { customValues: p.ticks, fontSize: 11, color: '#333', margin: 4, fontFamily: SANS, formatter: v => p.digits ? v.toFixed(p.digits) : String(v) } })
  const rows = p.boxes.map((s, i) => [Math.floor(i / 2) + 1 + (i % 2 ? .2 : -.2)].concat(s, i % 2))
  custom(g, rows, (params, api) => {
    const x = api.value(0), c = boxColors[api.value(6)]
    const half = api.size([1, 0])[0] * .18
    const px = api.coord([x, 0])[0], py = v => api.coord([x, v])[1]
    const v1 = api.value(2), v3 = api.value(4), iqr = v3 - v1
    // whiskers stop at 1.5 IQR, samples further out stay as lone dots
    const low = py(Math.max(api.value(1), v1 - 1.5 * iqr)), high = py(Math.min(api.value(5), v3 + 1.5 * iqr))
    const q1 = py(v1), med = py(api.value(3)), q3 = py(v3)
    const st = { stroke: c, lineWidth: 1, fill: 'none' }
    return { type: 'group', children: [
      { type: 'line', shape: { x1: px, y1: low, x2: px, y2: q1 }, style: st },
      { type: 'line', shape: { x1: px, y1: q3, x2: px, y2: high }, style: st },
      { type: 'rect', shape: { x: px - half, y: q3, width: half * 2, height: q1 - q3 }, style: st },
      { type: 'line', shape: { x1: px - half, y1: med, x2: px + half, y2: med }, style: { stroke: c, lineWidth: 1.5 } }
    ] }
  })
  ;[0, 1].forEach(c => {
    const data = []
    p.dots.forEach((vals, i) => {
      if (i % 2 !== c) return
      const xc = rows[i][0]
      vals.concat([p.boxes[i][0], p.boxes[i][4]]).forEach((v, j) => data.push([xc + jitter[j % jitter.length], v]))
    })
    series.push({ type: 'scatter', xAxisIndex: g, yAxisIndex: g, symbolSize: 2.5, silent: true, itemStyle: { color: boxColors[c] }, data })
  })
  custom(g, pos.map(v => [v, 0]), (params, api) => ({
    type: 'text', x: api.coord([api.value(0), 0])[0], y: t + 5,
    style: { text: p.stars[params.dataIndex], fill: '#333', fontSize: 8, fontFamily: SANS, textAlign: 'center', textVerticalAlign: 'middle' }
  }))
  txt(p.nameX, p.nameY, 'Relative expression', { size: 10, rotate: Math.PI / 2 })
  const [cx, kA, kB, ky] = p.legend
  txt(cx, ky, 'Cluster', { size: 11 })
  ;[kA, kB].forEach((k, i) => {
    rect(k - 6, ky - 4, 12, 8, 'none', boxColors[i], 1)
    seg(k - 6, ky, k + 6, ky, boxColors[i], 1)
    seg(k, ky - 7, k, ky - 4, boxColors[i], 1)
    seg(k, ky + 4, k, ky + 7, boxColors[i], 1)
    txt(k + 14, ky, 'AB'[i], { size: 8 })
  })
}

function drawViolins(p) {
  const [l, t, r, b] = p.box
  const xl = limits(l, r, p.cat0, p.cat21, 1, 22), yl = limits(b, t, p.y0, p.tickPx, 0, p.tickV)
  const yMax = yl.max
  const pos = range(cells)
  const g = addGrid(p.box,
    { min: xl.min, max: xl.max, axisLine: { show: false }, axisTick: { show: false }, axisLabel: { customValues: pos, rotate: p.labelRotate || 50, fontSize: 9, color: '#333', margin: p.labelGap, fontFamily: SANS, formatter: v => cells[Math.round(v) - 1] } },
    { min: yl.min, max: yl.max, axisLine: { show: false }, axisTick: { customValues: p.ticks, length: 3, lineStyle: { color: '#555' } }, axisLabel: { customValues: p.ticks, fontSize: 8.5, color: '#333', margin: 4, fontFamily: SANS, formatter: v => v.toFixed(1) } },
    { show: true, borderColor: '#999', borderWidth: 1 })
  const rows = []
  ;[p.a, p.b].forEach((list, c) => list.forEach((v, i) => rows.push([i + 1 + (c ? .167 : -.167), c, v[0], v[1] || 0, v[2] || 0])))
  custom(g, rows, (params, api) => {
    const x = api.value(0), c = api.value(1), hi = api.value(2), med = api.value(3), lo = api.value(4)
    const cx = api.coord([x, 0])[0], py = v => api.coord([x, v])[1]
    const f = Math.min(1, (hi - lo) / (.07 * yMax))
    const w = api.size([1, 0])[0] * .165 * f
    const prof = v => {
      if (v >= med) return w * Math.pow(1 - (v - med) / ((hi - med) || 1), 2)
      const s = (med - v) / ((med - lo) || 1)
      return lo > 0 ? w * Math.pow(1 - s, 1.2) : w * (1 - .6 * s)
    }
    const left = [], right = []
    for (let i = 0; i <= 24; i++) {
      const v = lo + (hi - lo) * i / 24
      left.push([cx - prof(v), py(v)])
      right.unshift([cx + prof(v), py(v)])
    }
    const kids = [
      { type: 'polygon', shape: { points: left.concat(right) }, style: { fill: vioColors[c], stroke: f < .3 ? '#aaa' : 'none', lineWidth: .5 } },
      { type: 'line', shape: { x1: cx, y1: py(lo), x2: cx, y2: py(hi) }, style: { stroke: f < .3 ? '#bbb' : '#111', lineWidth: .7 } }
    ]
    if (f >= .25) kids.push({ type: 'circle', shape: { cx, cy: py(med), r: f < .8 ? 2 : 1.5 }, style: { fill: '#fff', stroke: f < .8 ? vioColors[c] : 'none', lineWidth: .8 } })
    return { type: 'group', children: kids }
  })
  const brackets = p.a.map((v, i) => [i + 1, v[0], p.b[i][0]])
  custom(g, brackets, (params, api) => {
    const x = api.value(0), ha = api.value(1), hb = api.value(2), top = Math.max(ha, hb)
    const xa = api.coord([x - .167, 0])[0], xb = api.coord([x + .167, 0])[0], cx = api.coord([x, 0])[0]
    const y = v => api.coord([x, v])[1]
    const pts = [[xa, y(ha)], [xa, y(top)], [xb, y(top)], [xb, y(hb)]]
    return { type: 'group', children: [
      { type: 'polyline', shape: { points: pts }, style: { stroke: '#777', lineWidth: .6, fill: 'none' } },
      { type: 'text', x: cx, y: y(top) - 7, style: { text: 'p=' + p.p[params.dataIndex], fill: '#333', fontSize: 5, fontFamily: SANS, textAlign: 'center', textVerticalAlign: 'middle' } }
    ] }
  })
  txt(p.nameX, p.nameY, 'Fraction', { size: 12, rotate: Math.PI / 2 })
  const [k0, k1, kt, kA, kB] = p.legend
  seg(k0, kA, k1, kA, boxColors[0], 1.4)
  seg(k0, kB, k1, kB, boxColors[1], 1.4)
  txt(kt, kA, 'A', { size: 8 })
  txt(kt, kB, 'B', { size: 8 })
}

// ---------- panel titles and letters ----------
const bigTitles = [['RA', 241, 27], ['COPD', 694, 22], ['ILD', 1204, 28], ['Asm', 1637, 28], ['COVID-19', 270, 1042], ['LA', 707, 1042], ['SLE', 1173, 1042]]
bigTitles.forEach(a => txt(a[1], a[2], a[0], { size: 25, family: 'Lato', color: '#111' }))
;[['A', 15], ['B', 328], ['C', 603], ['D', 1032], ['E', 1369], ['F', 1633]].forEach(a => txt(0, a[1], a[0], { size: 26, weight: 'bold', align: 'left', color: '#000' }))

// ---------- A and D ----------
drawConsensus({ heat: [59, 137, 211, 289], barTop: 128, barBottom: 134, dendTop: 82, title: [135, 79], key: [228, 105, 249, 126], blocks: heatRA, bar: barRA, dend: dendRA })
drawConsensus({ heat: [517, 138, 669, 289], barTop: 128, barBottom: 134, dendTop: 82, title: [593, 79], key: [686, 105, 707, 126], blocks: heatCOPD, bar: barCOPD, dend: dendCOPD })
drawConsensus({ heat: [996, 141, 1148, 293], barTop: 132, barBottom: 139, dendTop: 86, title: [1071, 83], key: [1165, 109, 1186, 130], blocks: heatILD, bar: barILD, dend: dendILD })
drawConsensus({ heat: [1461, 139, 1613, 290], barTop: 128, barBottom: 135, dendTop: 82, title: [1537, 79], key: [1630, 106, 1651, 127], blocks: heatAsm, bar: barAsm, dend: dendAsm })
drawConsensus({ heat: [50, 1168, 201, 1319], barTop: 1158, barBottom: 1165, dendTop: 1112, title: [126, 1109], key: [219, 1135, 240, 1157], blocks: heatCOVID, bar: barCOVID, dend: dendCOVID })
drawConsensus({ heat: [533, 1170, 684, 1321], barTop: 1161, barBottom: 1167, dendTop: 1114, title: [608, 1111], key: [702, 1137, 723, 1159], blocks: heatLA, bar: barLA, dend: dendLA })
drawConsensus({ heat: [982, 1175, 1135, 1324], barTop: 1163, barBottom: 1169, dendTop: 1117, title: [1058, 1113], key: [1152, 1140, 1172, 1162], blocks: heatSLE, bar: barSLE, dend: dendSLE })

drawCdf({ box: [279, 112, 457, 270], x0: 285, x1: 451, y0: 265, y1: 117, titleY: 99, nameY: 294, nameX: 255, key: [418, 191, 437, 251], curves: cdfRA })
drawCdf({ box: [739, 109, 932, 280], x0: 746, x1: 925, y0: 274, y1: 115, titleY: 95, nameY: 306, nameX: 714, key: [889, 194, 911, 259], curves: cdfCOPD })
drawCdf({ box: [1217, 109, 1410, 281], x0: 1224, x1: 1403, y0: 274, y1: 115, titleY: 95, nameY: 306, nameX: 1191, key: [1367, 194, 1388, 259], curves: cdfILD })
drawCdf({ box: [1687, 109, 1879, 281], x0: 1694, x1: 1873, y0: 274, y1: 115, titleY: 95, nameY: 306, nameX: 1661, key: [1837, 194, 1858, 259], curves: cdfAsm })
drawCdf({ box: [276, 1135, 468, 1306], x0: 283, x1: 461, y0: 1300, y1: 1141, titleY: 1121, nameY: 1332, nameX: 250, key: [426, 1220, 446, 1285], curves: cdfCOVID })
drawCdf({ box: [752, 1140, 945, 1311], x0: 759, x1: 938, y0: 1305, y1: 1146, titleY: 1126, nameY: 1337, nameX: 727, key: [903, 1225, 923, 1289], curves: cdfLA })
drawCdf({ box: [1204, 1143, 1397, 1315], x0: 1211, x1: 1390, y0: 1308, y1: 1149, titleY: 1129, nameY: 1340, nameX: 1179, key: [1354, 1229, 1375, 1292], curves: cdfSLE })

// ---------- B and E ----------
drawBoxes({ box: [92, 383, 391, 573], cat0: 118, cat6: 366, ticks: [5, 7.5, 10, 12.5], tickPx: [532, 385], digits: 1, nameX: 62, nameY: 477, legend: [205, 233, 260, 361], boxes: boxRA, dots: dotsRA, stars: starsRA })
drawBoxes({ box: [560, 383, 867, 573], cat0: 587, cat6: 841, ticks: [4, 6, 8, 10], tickPx: [558, 394], nameX: 538, nameY: 478, legend: [674, 704, 732, 361], boxes: boxCOPD, dots: dotsCOPD, stars: starsCOPD })
drawBoxes({ box: [1048, 379, 1363, 570], cat0: 1074, cat6: 1336, ticks: [5, 10], tickPx: [513, 443], nameX: 1026, nameY: 474, legend: [1174, 1196, 1224, 358], boxes: boxILD, dots: dotsILD, stars: starsILD })
drawBoxes({ box: [1475, 381, 1852, 573], cat0: 1506, cat6: 1820, ticks: [6, 8, 10, 12, 14], tickPx: [559, 383], nameX: 1446, nameY: 478, legend: [1620, 1652, 1687, 362], boxes: boxAsm, dots: dotsAsm, stars: starsAsm })
drawBoxes({ box: [100, 1392, 432, 1587], cat0: 127, cat6: 405, ticks: [2.5, 5, 7.5], tickPx: [1546, 1436], digits: 1, nameX: 72, nameY: 1489, legend: [230, 256, 287, 1371], boxes: boxCOVID, dots: dotsCOVID, stars: starsCOVID })
drawBoxes({ box: [556, 1399, 907, 1589], cat0: 585, cat6: 878, ticks: [5, 10, 15], tickPx: [1536, 1402], nameX: 530, nameY: 1493, legend: [683, 721, 753, 1378], boxes: boxLA, dots: dotsLA, stars: starsLA })
drawBoxes({ box: [1024, 1401, 1382, 1589], cat0: 1054, cat6: 1352, ticks: [6, 9, 12], tickPx: [1541, 1442], nameX: 998, nameY: 1496, legend: [1153, 1192, 1225, 1380], boxes: boxSLE, dots: dotsSLE, stars: starsSLE })

// ---------- C and F ----------
drawViolins({ box: [42, 650, 434, 882], cat0: 58.5, cat21: 422.5, y0: 874, tickPx: 700, tickV: .6, ticks: [0, .2, .4, .6], labelGap: 6, nameX: 10, nameY: 758, legend: [407, 420, 428, 659, 667], a: vioRA_A, b: vioRA_B, p: pRA })
drawViolins({ box: [530, 651, 912, 885], cat0: 547, cat21: 900, y0: 876, tickPx: 706, tickV: .3, ticks: [0, .1, .2, .3], labelGap: 17, nameX: 503, nameY: 762, legend: [885, 898, 906, 659, 668], a: vioCOPD_A, b: vioCOPD_B, p: pCOPD })
drawViolins({ box: [1029, 654, 1383, 888], cat0: 1044, cat21: 1372, y0: 879, tickPx: 669, tickV: .6, ticks: [0, .1, .2, .3, .4, .5, .6], labelGap: 6, labelRotate: 60, nameX: 999, nameY: 764, legend: [1357, 1369, 1377, 663, 672], a: vioILD_A, b: vioILD_B, p: pILD })
drawViolins({ box: [1477, 650, 1837, 881], cat0: 1493, cat21: 1826, y0: 872, tickPx: 687, tickV: .5, ticks: [0, .1, .2, .3, .4, .5], labelGap: 6, labelRotate: 60, nameX: 1449, nameY: 759, legend: [1811, 1824, 1831, 658, 667], a: vioAsm_A, b: vioAsm_B, p: pAsm })
drawViolins({ box: [59, 1672, 423, 1903], cat0: 75, cat21: 411, y0: 1894, tickPx: 1690, tickV: .8, ticks: [0, .2, .4, .6, .8], labelGap: 6, nameX: 30, nameY: 1780, legend: [397, 410, 417, 1681, 1690], a: vioCOVID_A, b: vioCOVID_B, p: pCOVID })
drawViolins({ box: [554, 1672, 903, 1900], cat0: 570, cat21: 892, y0: 1892, tickPx: 1687, tickV: .6, ticks: [0, .1, .2, .3, .4, .5, .6], labelGap: 6, nameX: 527, nameY: 1779, legend: [878, 890, 897, 1681, 1689], a: vioLA_A, b: vioLA_B, p: pLA })
drawViolins({ box: [1039, 1672, 1396, 1902], cat0: 1055, cat21: 1385, y0: 1893, tickPx: 1692, tickV: .6, ticks: [0, .1, .2, .3, .4, .5, .6], labelGap: 6, nameX: 1011, nameY: 1779, legend: [1371, 1383, 1390, 1681, 1689], a: vioSLE_A, b: vioSLE_B, p: pSLE })

const myChart = echarts.init(document.getElementById('chart'))
myChart.setOption({ animation: false, backgroundColor: '#fff', grid, xAxis, yAxis, series, graphic: { elements } })
</script>
</body>
</html>
